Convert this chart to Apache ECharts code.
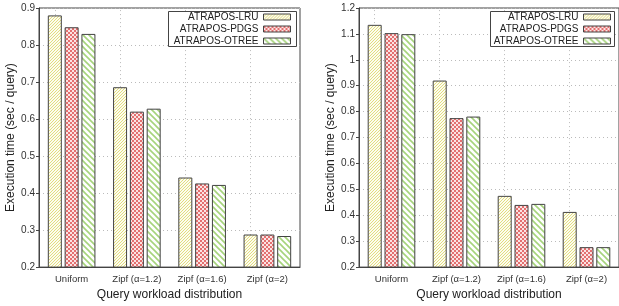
<!DOCTYPE html>
<html>
<head>
<meta charset="utf-8">
<script src="https://cdn.jsdelivr.net/npm/echarts@6/dist/echarts.min.js"></script>
<style>
  html, body { margin: 0; padding: 0; background: #fff; }
  #chart { width: 619px; height: 306px; }
</style>
</head>
<body>
<div id="chart"></div>
<script>
const categories = ['Uniform', 'Zipf (α=1.2)', 'Zipf (α=1.6)', 'Zipf (α=2)'];
const seriesNames = ['ATRAPOS-LRU', 'ATRAPOS-PDGS', 'ATRAPOS-OTREE'];

// left panel
const leftLru = [0.880, 0.686, 0.442, 0.288];
const leftPdgs = [0.848, 0.620, 0.426, 0.288];
const leftOtree = [0.830, 0.628, 0.422, 0.284];

// right panel
const rightLru = [1.135, 0.920, 0.475, 0.413];
const rightPdgs = [1.103, 0.775, 0.440, 0.277];
const rightOtree = [1.099, 0.781, 0.444, 0.277];

const leftTicks = { min: 0.2, max: 0.9, interval: 0.1 };
const rightTicks = { min: 0.2, max: 1.2, interval: 0.1 };

const yName = 'Execution time (sec / query)';
const xName = 'Query workload distribution';

// fill patterns, drawn on small canvases
function makePattern(kind) {
    const c = document.createElement('canvas');
    const ctx = c.getContext('2d');
    if (kind === 'lru') {
        c.width = 3; c.height = 3;
        ctx.fillStyle = '#fdfcef';
        ctx.fillRect(0, 0, 3, 3);
        ctx.fillStyle = '#e2dd80';
        // one-pixel diagonal "/" stripe
        ctx.fillRect(2, 0, 1, 1);
        ctx.fillRect(1, 1, 1, 1);
        ctx.fillRect(0, 2, 1, 1);
    } else if (kind === 'pdgs') {
        c.width = 4; c.height = 4;
        ctx.fillStyle = '#fbe3e3';
        ctx.fillRect(0, 0, 4, 4);
        ctx.fillStyle = '#e37070';
        ctx.fillRect(0, 0, 2, 2);
        ctx.fillRect(2, 2, 2, 2);
    } else {
        c.width = 6; c.height = 6;
        ctx.fillStyle = '#fff';
        ctx.fillRect(0, 0, 6, 6);
        ctx.strokeStyle = '#a6d47c';
        ctx.lineWidth = 1.6;
        ctx.beginPath();
        ctx.moveTo(-1, -1); ctx.lineTo(7, 7);
        ctx.moveTo(5, -1); ctx.lineTo(7, 1);
        ctx.moveTo(-1, 5); ctx.lineTo(1, 7);
        ctx.stroke();
    }
    return { image: c, repeat: 'repeat' };
}

const fills = [makePattern('lru'), makePattern('pdgs'), makePattern('otree')];

const chart = echarts.init(document.getElementById('chart'));

const font = 'Liberation Sans';
const textColor = '#333';

function grid(left) {
    return {
        left: left, top: 8, width: 261, height: 261,
        show: true, borderColor: '#444', borderWidth: 1,
        backgroundColor: 'transparent'
    };
}

function xAxis(gridIndex) {
    return {
        type: 'category',
        gridIndex: gridIndex,
        data: categories,
        name: xName,
        nameLocation: 'middle',
        nameGap: 20,
        nameTextStyle: { fontFamily: font, fontSize: 12, color: '#222' },
        axisLine: { lineStyle: { color: '#444' } },
        axisTick: { show: false },
        axisLabel: { interval: 0, fontFamily: font, fontSize: 9.5, color: textColor, margin: 7 },
        splitLine: { show: false }
    };
}

function yAxis(gridIndex, t) {
    return {
        type: 'value',
        gridIndex: gridIndex,
        min: t.min, max: t.max, interval: t.interval,
        name: yName,
        nameLocation: 'middle',
        nameGap: 22,
        nameTextStyle: { fontFamily: font, fontSize: 12, color: '#222' },
        axisLine: { show: true, lineStyle: { color: '#444' } },
        axisTick: { show: true, inside: false, length: 3, lineStyle: { color: '#444' } },
        axisLabel: { fontFamily: font, fontSize: 10, color: textColor, margin: 4 },
        splitLine: { show: true, lineStyle: { color: '#bbb', type: [1, 3] } }
    };
}

function barSeries(name, idx, data, axisIndex) {
    const s = {
        name: name,
        type: 'bar',
        xAxisIndex: axisIndex,
        yAxisIndex: axisIndex,
        data: data,
        barWidth: 14,
        barGap: '20%',
        z: 2,
        itemStyle: {
            color: fills[idx],
            borderColor: '#444',
            borderWidth: 1
        },
        emphasis: { disabled: true }
    };
    if (idx === 0) {
        // vertical dotted grid lines at category centres
        s.markLine = {
            silent: true,
            z: 1,
            symbol: 'none',
            label: { show: false },
            lineStyle: { color: '#bbb', type: [1, 3], width: 1 },
            data: categories.map(c => ({ xAxis: c }))
        };
    }
    return s;
}

function legendItem(name, right, top) {
    return {
        data: [name],
        right: right,
        top: top,
        orient: 'horizontal',
        align: 'right',
        padding: 0,
        icon: 'rect',
        itemWidth: 27,
        itemHeight: 6,
        selectedMode: false,
        itemStyle: { borderColor: '#444', borderWidth: 1 },
        textStyle: { fontFamily: font, fontSize: 10, color: '#222' }
    };
}

const legends = [];
seriesNames.forEach((n, i) => {
    legends.push(legendItem(n, 328, 12 + i * 12));
    legends.push(legendItem(n, 8, 12 + i * 12));
});

chart.setOption({
    animation: false,
    backgroundColor: '#fff',
    grid: [grid(39), grid(359)],
    xAxis: [xAxis(0), xAxis(1)],
    yAxis: [yAxis(0, leftTicks), yAxis(1, rightTicks)],
    legend: legends,
    graphic: [
        { type: 'rect', z: 3, shape: { x: 168.5, y: 11.5, width: 128, height: 35 },
          style: { fill: '#fff', stroke: '#444', lineWidth: 1 } },
        { type: 'rect', z: 3, shape: { x: 490.5, y: 11.5, width: 124, height: 35 },
          style: { fill: '#fff', stroke: '#444', lineWidth: 1 } }
    ],
    series: [
        barSeries(seriesNames[0], 0, leftLru, 0),
        barSeries(seriesNames[1], 1, leftPdgs, 0),
        barSeries(seriesNames[2], 2, leftOtree, 0),
        barSeries(seriesNames[0], 0, rightLru, 1),
        barSeries(seriesNames[1], 1, rightPdgs, 1),
        barSeries(seriesNames[2], 2, rightOtree, 1)
    ]
});
</script>
</body>
</html>
